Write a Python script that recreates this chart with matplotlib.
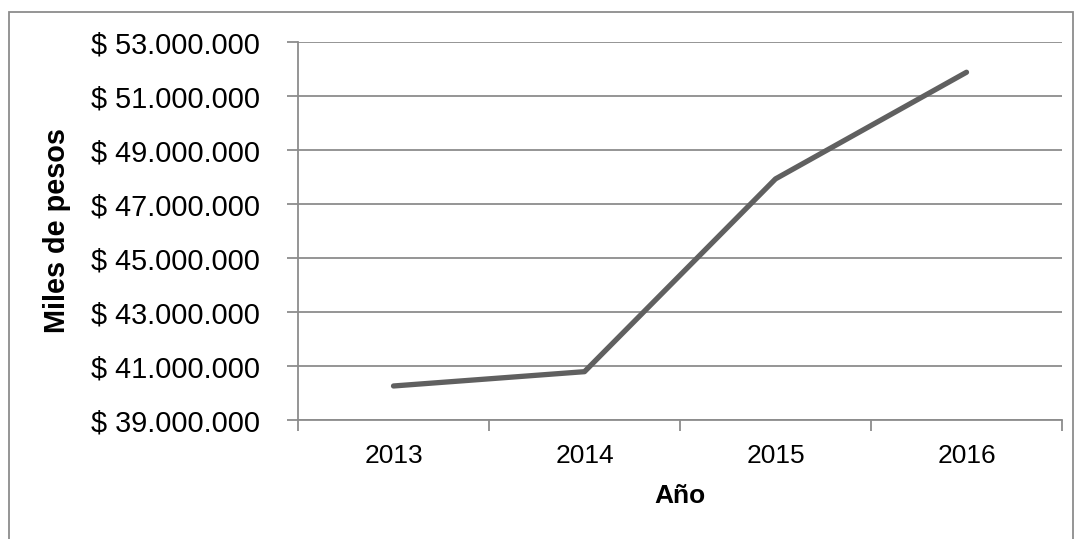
import matplotlib
matplotlib.use("Agg")
import matplotlib.pyplot as plt
from matplotlib.patches import Rectangle
from matplotlib.ticker import FuncFormatter, FixedLocator

years = ["2013", "2014", "2015", "2016"]
values = [40_260_000, 40_790_000, 47_930_000, 51_880_000]

y_ticks = [39_000_000, 41_000_000, 43_000_000, 45_000_000,
           47_000_000, 49_000_000, 51_000_000, 53_000_000]

GRID = "#8c8c8c"
LINE = "#606060"

plt.rcParams["font.family"] = ["Liberation Sans", "DejaVu Sans"]


def peso_fmt(v, pos=None):
    return "$ " + f"{int(v):,}".replace(",", ".")


fig = plt.figure(figsize=(10.8, 5.39), dpi=100)
ax = fig.add_axes([298 / 1080, 1 - 420 / 539, 764 / 1080, 378 / 539])

x = list(range(len(years)))
ax.plot(x, values, color=LINE, lw=3.8, solid_capstyle="round", zorder=3)

ax.set_xlim(-0.5, len(years) - 0.5)
ax.set_ylim(y_ticks[0], y_ticks[-1])
ax.set_yticks(y_ticks)
ax.yaxis.set_major_formatter(FuncFormatter(peso_fmt))
ax.grid(axis="y", color=GRID, lw=1.3)
ax.set_axisbelow(True)

# category ticks at boundaries, labels at centres
ax.xaxis.set_major_locator(FixedLocator([i - 0.5 for i in range(len(years) + 1)]))
ax.xaxis.set_minor_locator(FixedLocator(x))
ax.set_xticklabels([])
ax.set_xticklabels(years, minor=True)
ax.tick_params(axis="x", which="major", length=8, width=1.3, color=GRID, direction="out")
ax.tick_params(axis="x", which="minor", length=0, pad=17, labelsize=19)
ax.tick_params(axis="y", length=8, width=1.3, color=GRID, direction="out",
               pad=19.5, labelsize=20.8)

for side in ["top", "right"]:
    ax.spines[side].set_visible(False)
for side in ["left", "bottom"]:
    ax.spines[side].set_color(GRID)
    ax.spines[side].set_linewidth(1.3)

ax.set_xlabel("Año", fontsize=19, fontweight="bold", labelpad=12)
fig.text(57 / 1080, 1 - 231 / 539, "Miles de pesos", rotation=90,
         fontsize=20.8, fontweight="bold", ha="center", va="center")

# outer chart frame
fig.patches.append(Rectangle((9 / 1080, -0.02), 1064 / 1080, 1 - 12 / 539 + 0.02,
                             transform=fig.transFigure, fill=False,
                             edgecolor="#8c8c8c", lw=1.3))

fig.savefig("out.png", dpi=100)
